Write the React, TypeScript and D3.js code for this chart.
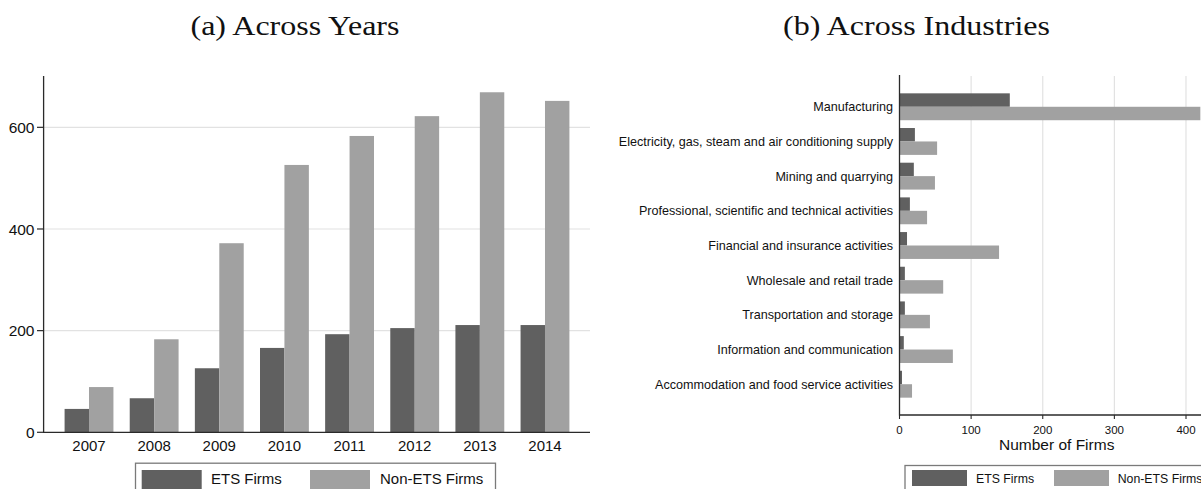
import React from "react";
import * as d3 from "d3";

const years = ["2007", "2008", "2009", "2010", "2011", "2012", "2013", "2014"];
const etsByYear = [46, 67, 126, 166, 193, 205, 211, 211];
const nonEtsByYear = [89, 183, 372, 526, 583, 622, 669, 652];
const yearTicks = [0, 200, 400, 600];

const industries = [
  "Manufacturing",
  "Electricity, gas, steam and air conditioning supply",
  "Mining and quarrying",
  "Professional, scientific and technical activities",
  "Financial and insurance activities",
  "Wholesale and retail trade",
  "Transportation and storage",
  "Information and communication",
  "Accommodation and food service activities",
];
const etsByIndustry = [154, 21.5, 20, 14.5, 10.5, 7.5, 7.5, 6, 3.5];
const nonEtsByIndustry = [420, 52.5, 49.5, 38.5, 139, 61, 42.5, 74.5, 17.5];
const industryTicks = [0, 100, 200, 300, 400];

const seriesNames = ["ETS Firms", "Non-ETS Firms"];
const DARK = "#606060";
const LIGHT = "#a1a1a1";
const GRID = "#e2e2e2";
const AXIS = "#2a2a2a";
const SANS = "'Liberation Sans', Arial, sans-serif";
const SERIF = "'Liberation Serif', 'DejaVu Serif', serif";

export default function App() {
  // Left panel scales
  const yL = d3.scaleLinear().domain([0, 700]).range([432.3, 76.5]);
  const xL = d3
    .scaleBand<string>()
    .domain(years)
    .range([44, 590])
    .paddingInner(0.25)
    .paddingOuter(0.316);
  const subL = d3
    .scaleBand<string>()
    .domain(seriesNames)
    .range([0, xL.bandwidth()]);

  // Right panel scales
  const xR = d3.scaleLinear().domain([0, 400]).range([899.5, 1186]);
  const yR = d3
    .scaleBand<string>()
    .domain(industries)
    .range([76, 415])
    .paddingInner(0.225)
    .paddingOuter(0.5);
  const subR = d3
    .scaleBand<string>()
    .domain(seriesNames)
    .range([0, yR.bandwidth()]);

  return (
    <svg
      width={1201}
      height={489}
      style={{ position: "absolute", left: 0, top: 0, background: "#fff" }}
      fontFamily={SANS}
    >
      <rect x={0} y={0} width={1201} height={489} fill="#fff" />
      {/* Titles */}
      <text
        x={295}
        y={35}
        textAnchor="middle"
        fontFamily={SERIF}
        fontSize={28}
        textLength={209}
        lengthAdjust="spacingAndGlyphs"
        fill="#111"
      >
        (a) Across Years
      </text>
      <text
        x={916.5}
        y={35}
        textAnchor="middle"
        fontFamily={SERIF}
        fontSize={28}
        textLength={267}
        lengthAdjust="spacingAndGlyphs"
        fill="#111"
      >
        (b) Across Industries
      </text>

      {/* ---------- Left panel ---------- */}
      {yearTicks
        .filter((t) => t > 0)
        .map((t) => (
          <line
            key={"gl" + t}
            x1={44}
            x2={590}
            y1={yL(t)}
            y2={yL(t)}
            stroke={GRID}
            strokeWidth={1.2}
          />
        ))}
      {years.map((yr, i) => (
        <g key={yr}>
          <rect
            x={(xL(yr) as number) + (subL(seriesNames[0]) as number)}
            y={yL(etsByYear[i])}
            width={subL.bandwidth()}
            height={yL(0) - yL(etsByYear[i])}
            fill={DARK}
          />
          <rect
            x={(xL(yr) as number) + (subL(seriesNames[1]) as number)}
            y={yL(nonEtsByYear[i])}
            width={subL.bandwidth()}
            height={yL(0) - yL(nonEtsByYear[i])}
            fill={LIGHT}
          />
          <text
            x={(xL(yr) as number) + xL.bandwidth() / 2}
            y={450.5}
            textAnchor="middle"
            fontSize={15}
            fill="#111"
          >
            {yr}
          </text>
        </g>
      ))}
      <line x1={43.6} x2={43.6} y1={76} y2={432.9} stroke={AXIS} strokeWidth={1.3} />
      <line x1={43} x2={590} y1={432.3} y2={432.3} stroke={AXIS} strokeWidth={1.3} />
      {yearTicks.map((t) => (
        <g key={"yt" + t}>
          <line x1={37} x2={44} y1={yL(t)} y2={yL(t)} stroke={AXIS} strokeWidth={1.2} />
          <text
            x={34.5}
            y={yL(t)}
            dy="0.36em"
            textAnchor="end"
            fontSize={15.5}
            fill="#111"
          >
            {t}
          </text>
        </g>
      ))}
      {/* Left legend */}
      <rect x={135.5} y={463.2} width={360} height={40} fill="#fff" stroke="#7a7a7a" strokeWidth={1.3} />
      <rect x={141.7} y={470} width={60} height={22} fill={DARK} />
      <text x={211} y={483.5} fontSize={15} fill="#111">
        {seriesNames[0]}
      </text>
      <rect x={310} y={470} width={60} height={22} fill={LIGHT} />
      <text x={380} y={483.5} fontSize={15} fill="#111">
        {seriesNames[1]}
      </text>

      {/* ---------- Right panel ---------- */}
      {industryTicks
        .filter((t) => t > 0)
        .map((t) => (
          <line
            key={"gr" + t}
            x1={xR(t)}
            x2={xR(t)}
            y1={76}
            y2={415}
            stroke={GRID}
            strokeWidth={1.2}
          />
        ))}
      {industries.map((ind, i) => {
        const y0 = yR(ind) as number;
        return (
          <g key={ind}>
            <rect
              x={xR(0)}
              y={y0 + (subR(seriesNames[0]) as number)}
              width={xR(etsByIndustry[i]) - xR(0)}
              height={subR.bandwidth()}
              fill={DARK}
            />
            <rect
              x={xR(0)}
              y={y0 + (subR(seriesNames[1]) as number)}
              width={xR(nonEtsByIndustry[i]) - xR(0)}
              height={subR.bandwidth()}
              fill={LIGHT}
            />
            <text
              x={893}
              y={y0 + yR.bandwidth() / 2}
              dy="0.36em"
              textAnchor="end"
              fontSize={12.6}
              fill="#111"
            >
              {ind}
            </text>
          </g>
        );
      })}
      <line x1={899.5} x2={899.5} y1={75} y2={415.6} stroke={AXIS} strokeWidth={1.3} />
      <line x1={899} x2={1214} y1={415} y2={415} stroke={AXIS} strokeWidth={1.3} />
      {industryTicks.map((t) => (
        <g key={"xt" + t}>
          <line x1={xR(t)} x2={xR(t)} y1={415} y2={419} stroke={AXIS} strokeWidth={1.1} />
          <text x={xR(t)} y={434} textAnchor="middle" fontSize={11.5} fill="#111">
            {t}
          </text>
        </g>
      ))}
      <text x={1056.7} y={450} textAnchor="middle" fontSize={15.5} fill="#111">
        Number of Firms
      </text>
      {/* Right legend */}
      <rect x={905} y={465.5} width={320} height={40} fill="#fff" stroke="#7a7a7a" strokeWidth={1.3} />
      <rect x={912} y={470} width={55} height={16} fill={DARK} />
      <text x={976} y={482.5} fontSize={12.3} fill="#111">
        {seriesNames[0]}
      </text>
      <rect x={1054} y={470} width={55} height={16} fill={LIGHT} />
      <text x={1117.7} y={482.5} fontSize={12.3} fill="#111">
        {seriesNames[1]}
      </text>
    </svg>
  );
}
